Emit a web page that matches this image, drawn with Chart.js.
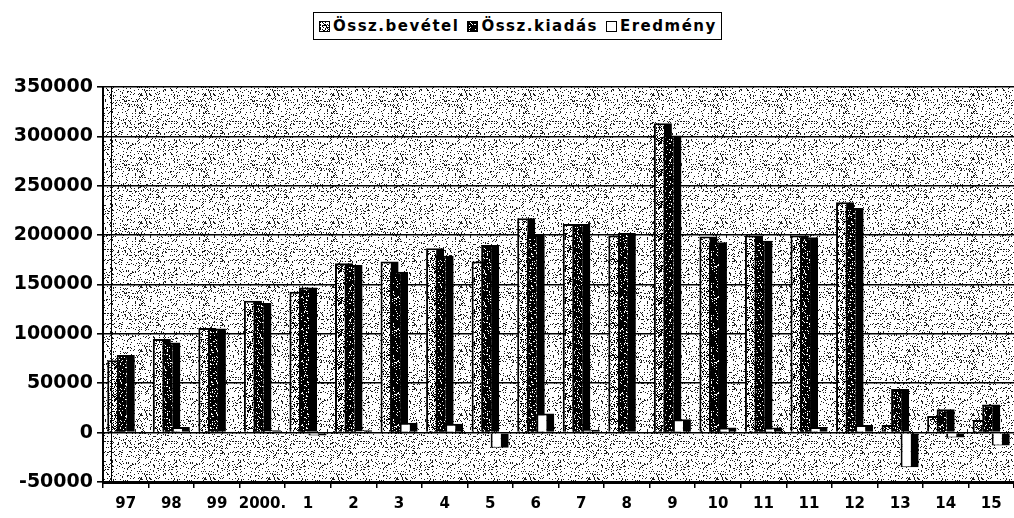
<!DOCTYPE html>
<html>
<head>
<meta charset="utf-8">
<script src="https://cdn.jsdelivr.net/npm/chart.js@4/dist/chart.umd.min.js"></script>
<style>
  html, body { margin: 0; padding: 0; background: #fff; }
  #wrap { position: relative; width: 1014px; height: 518px; }
  #legend {
    position: absolute; left: 313px; top: 12px; height: 26px;
    border: 1.5px solid #000; display: flex; align-items: center;
    padding: 0 4px 0 5px; font: bold 15px "DejaVu Sans", sans-serif;
    letter-spacing: 1.5px; color: #000; white-space: nowrap; background: #fff;
  }
  .item { display: flex; align-items: center; margin-right: 8px; }
  .item:last-child { margin-right: 0; }
  .sw { width: 9px; height: 9px; border: 1px solid #000; margin-right: 3px; }
</style>
</head>
<body>
<div id="wrap">
  <canvas id="c" width="1014" height="518"></canvas>
  <div id="legend"></div>
</div>
<script>
// Years / periods on the category axis
const categories = ['97', '98', '99', '2000.', '1', '2', '3', '4', '5', '6',
                    '7', '8', '9', '10', '11', '11', '12', '13', '14', '15'];

// Total revenue, total expenditure and result per period
const osszBevetel = [73400, 94700, 105900, 133500, 142700, 171400, 173400, 186600, 173400, 217000,
                     211300, 199500, 313300, 198500, 199500, 199500, 233200, 7800, 16900, 12800];
const osszKiadas  = [78500, 91300, 105500, 131200, 147000, 169700, 163000, 179200, 190000, 200200,
                     211300, 202200, 300900, 192700, 194400, 197800, 227500, 44300, 23700, 28500];
const eredmeny    = [0, 5800, 400, 2500, -3000, 2500, 10100, 9100, -15200, 19300,
                     3000, -1000, 13600, 5100, 5100, 5800, 7800, -35000, -5000, -13000];

const seriesNames = ['Össz.bevétel', 'Össz.kiadás', 'Eredmény'];

// Y axis range and step
const yMin = -50000, yMax = 350000, yStep = 50000;

// Deterministic speckle tiles used as pattern fills
function speckleTile(size, bg, dot, density, seed) {
  const cv = document.createElement('canvas');
  cv.width = size; cv.height = size;
  const g = cv.getContext('2d');
  g.fillStyle = bg; g.fillRect(0, 0, size, size);
  g.fillStyle = dot;
  for (let y = 0; y < size; y++) {
    for (let x = 0; x < size; x++) {
      let h = Math.imul(x + seed, 374761393) + Math.imul(y + seed * 7, 668265263);
      h = Math.imul(h ^ (h >>> 13), 1274126177);
      h = (h ^ (h >>> 16)) >>> 0;
      if (h / 4294967296 < density) g.fillRect(x, y, 1, 1);
    }
  }
  return cv;
}

const ctx = document.getElementById('c').getContext('2d');
const plotTile = speckleTile(64, '#ffffff', '#1a1a1a', 0.15, 3);
const lightTile = speckleTile(32, '#ffffff', '#000000', 0.3, 11);
const darkTile = speckleTile(32, '#000000', '#ffffff', 0.14, 23);
const whiteTile = speckleTile(8, '#ffffff', '#ffffff', 0, 1);

const plotPattern = ctx.createPattern(plotTile, 'repeat');
const fills = [ctx.createPattern(lightTile, 'repeat'),
               ctx.createPattern(darkTile, 'repeat'),
               '#ffffff'];
const swatchImages = [lightTile, darkTile, whiteTile];

// Speckled plot area plus the inner frame line
const plotBackground = {
  id: 'plotBackground',
  beforeDraw(chart) {
    const { ctx: c, chartArea: a } = chart;
    c.save();
    c.fillStyle = plotPattern;
    c.fillRect(a.left, a.top, a.right - a.left, a.bottom - a.top);
    c.restore();
  },
  afterDraw(chart) {
    const { ctx: c, chartArea: a } = chart;
    c.save();
    c.strokeStyle = '#000';
    c.lineWidth = 1;
    c.beginPath();
    c.moveTo(a.left + 8.5, a.top);
    c.lineTo(a.left + 8.5, a.bottom);
    c.stroke();
    c.restore();
  }
};

// Draw the series left to right so each column's dark side is overlapped by the next
const drawLeftToRight = {
  id: 'drawLeftToRight',
  beforeDatasetsDraw(chart) {
    const { ctx: c, chartArea: a } = chart;
    c.save();
    c.beginPath();
    c.rect(a.left, a.top, a.right - a.left, a.bottom - a.top);
    c.clip();
    chart.data.datasets.forEach((d, i) => {
      const meta = chart.getDatasetMeta(i);
      if (!meta.hidden) meta.controller.draw();
    });
    c.restore();
    return false;
  }
};

const values = [osszBevetel, osszKiadas, eredmeny];
const datasets = seriesNames.map((name, i) => ({
  label: name,
  data: values[i],
  backgroundColor: fills[i],
  borderColor: '#000',
  borderWidth: { top: 2, left: 2, bottom: 1, right: 8 },
  borderSkipped: 'start',
  barPercentage: 1.9,
  categoryPercentage: 0.626
}));

const chart = new Chart(ctx, {
  type: 'bar',
  data: { labels: categories, datasets },
  options: {
    responsive: false,
    animation: false,
    devicePixelRatio: 1,
    layout: { padding: { top: 87, left: 0, right: 0, bottom: 0 } },
    plugins: { legend: { display: false }, tooltip: { enabled: false } },
    scales: {
      x: {
        ticks: {
          color: '#000', autoSkip: false, maxRotation: 0, minRotation: 0, padding: 7,
          font: { family: 'DejaVu Sans', weight: 'bold', size: 15 }
        },
        grid: { drawOnChartArea: false, drawTicks: true, tickLength: 6, color: '#000', lineWidth: 1.5, offset: true },
        border: { color: '#000', width: 3 },
        afterFit(s) { s.height = 36; }
      },
      y: {
        min: yMin, max: yMax,
        ticks: {
          stepSize: yStep, color: '#000', padding: 4,
          font: { family: 'DejaVu Sans', weight: 'bold', size: 19 },
          callback: (v) => String(v)
        },
        grid: { color: '#000', lineWidth: 1.6, tickLength: 6, drawTicks: true },
        border: { color: '#000', width: 2 },
        afterFit(s) { s.width = 103; }
      }
    }
  },
  plugins: [plotBackground, drawLeftToRight]
});

// Legend built from the chart's own datasets
const legend = document.getElementById('legend');
chart.data.datasets.forEach((d, i) => {
  const item = document.createElement('div');
  item.className = 'item';
  const sw = document.createElement('span');
  sw.className = 'sw';
  sw.style.backgroundImage = 'url(' + swatchImages[i].toDataURL() + ')';
  const tx = document.createElement('span');
  tx.textContent = d.label;
  item.appendChild(sw);
  item.appendChild(tx);
  legend.appendChild(item);
});
</script>
</body>
</html>
